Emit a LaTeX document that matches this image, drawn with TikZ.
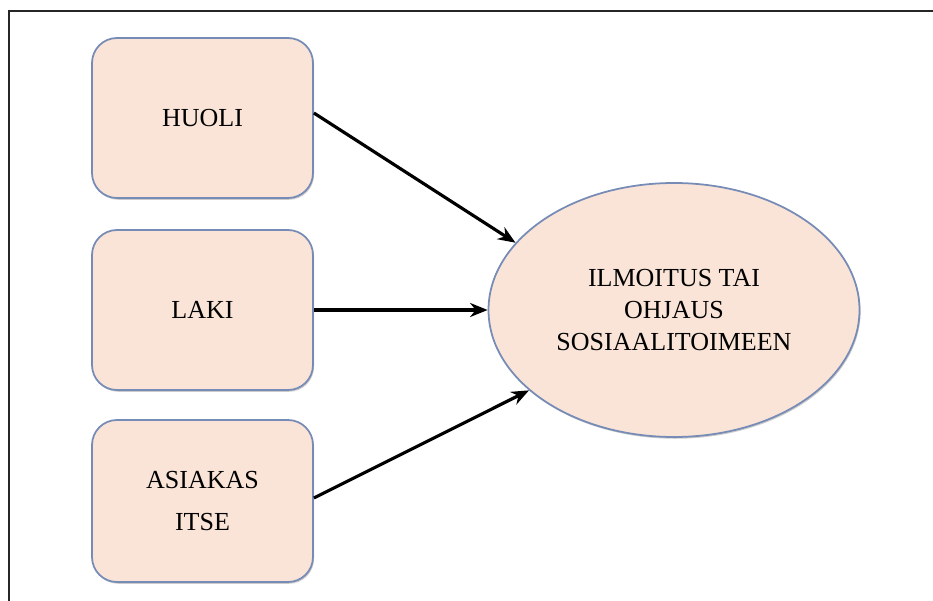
\documentclass[tikz,border=0pt]{standalone}
\usepackage{fontspec}
\setmainfont{Liberation Serif}
\usepackage{tikz}
\usepackage{xcolor}
\usetikzlibrary{shapes,shadows,arrows.meta}
\definecolor{peach}{RGB}{250,228,215}
\definecolor{rim}{RGB}{118,140,182}
\tikzset{box/.style={draw=rim,fill=peach,rounded corners=0.5cm,line width=1pt,
   minimum width=4.42cm,minimum height=3.2cm,align=center,
   drop shadow={shadow xshift=0.6pt,shadow yshift=-1pt,fill=black!40}},
 oval/.style={ellipse,draw=rim,fill=peach,line width=1pt,
   minimum width=7.42cm,minimum height=5.08cm,inner sep=0pt,align=center,
   drop shadow={shadow xshift=0.6pt,shadow yshift=-1pt,fill=black!40}},
 link/.style={line width=1.8pt,-{Stealth[length=10pt,width=8pt]}},
 }

\begin{document}
\begin{tikzpicture}[font=\fontsize{14.8}{18}\selectfont]
        \useasboundingbox (0,0) rectangle (18.66,-12.02);
        \draw [line width=1.1pt,black!85] (18.66,-0.22) -- (0.18,-0.22) -- (0.18,-12.02);

        \node [box] (huoli) at (4.05,-2.36) {HUOLI};
        \node [box] (laki) at (4.05,-6.2) {LAKI};
        \node [box,minimum height=3.24cm] (itse) at (4.05,-10.02) {ASIAKAS\\[6pt]ITSE};
        \node [oval] (ilm) at (13.48,-6.2) {ILMOITUS TAI\\OHJAUS\\SOSIAALITOIMEEN};

        \draw [link] ([yshift=0.1cm]huoli.east) -- (ilm.157);
        \draw [link] (laki.east) -- (ilm.west);
        \draw [link] ([yshift=0.06cm]itse.east) -- (ilm.209);
    \end{tikzpicture}
\end{document}
